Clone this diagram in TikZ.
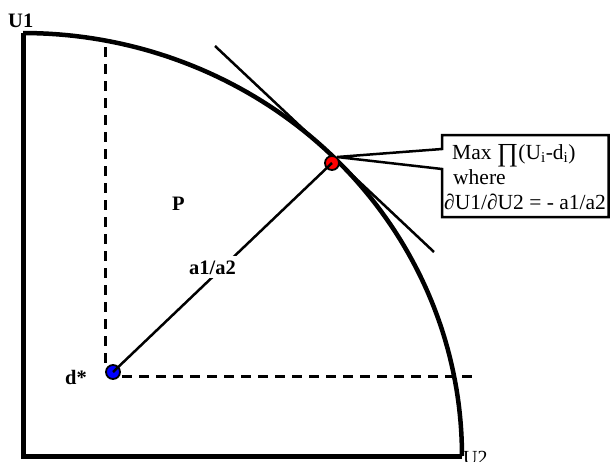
\documentclass[tikz,border=0pt]{standalone}
\usepackage{fontspec}
\setmainfont{Liberation Serif}
\begin{document}
\begin{tikzpicture}[x=1pt,y=-1pt,
  axis/.style={line width=5pt},
  frontier/.style={line width=4.5pt},
  thin line/.style={line width=2.5pt},
  dashline/.style={line width=3pt,dash pattern=on 10pt off 7pt},
  lbl/.style={font=\bfseries\fontsize{20.5}{22}\selectfont,inner sep=0pt},
  dot/.style={circle,draw=black,line width=1.8pt,minimum size=14pt,inner sep=0pt},
  boxtext/.style={font=\fontsize{21.5}{24}\selectfont,inner sep=0pt,anchor=base west}]
\useasboundingbox (0,0) rectangle (610,461);
% axes
\coordinate (O) at (23,456);
\coordinate (top) at (23,33);
\coordinate (right) at (462,456);
\draw[axis] (top) -- (O) -- (right);
% frontier
\draw[frontier] plot[domain=90:0,samples=80] ({23+439*cos(\x)},{456-423*sin(\x)});
% dashed lines
\coordinate (v1) at (105,47);
\coordinate (v2) at (105,368);
\coordinate (h1) at (122,376);
\coordinate (h2) at (478,376);
\draw[dashline] (v1) -- (v2);
\draw[dashline] (h1) -- (h2);
% tangent
\coordinate (t1) at (215,46);
\coordinate (t2) at (434,252);
\draw[thin line] (t1) -- (t2);
% dots
\node[dot,fill=blue] (d) at (113,372) {};
\node[dot,fill=red] (m) at (332,163) {};
\draw[thin line] (d.center) -- (m.center);
\node[lbl,fill=white,inner sep=4pt,anchor=base west] (a) at (185,274) {a1/a2};
% callout
\coordinate (apex) at (337,157);
\coordinate (c1) at (442,169);
\coordinate (c2) at (442,149);
\draw[thin line,line join=miter] (c1) -- (apex) -- (c2) -- (442,135) -- (608.7,135) -- (608.7,217) -- (442,217) -- cycle;
\node[boxtext] (l1) at (452,159) {Max \raisebox{-2pt}{\fontsize{26}{26}\selectfont ∏}(U\textsubscript{i}-d\textsubscript{i})};
\node[boxtext] (l2) at (453,184) {where};
\node[boxtext] (l3) at (444,209) {∂U1/∂U2 = - a1/a2};
% labels
\node[lbl,anchor=base west] (u1) at (8,27) {U1};
\node[lbl,anchor=base west] (p) at (172,210) {P};
\node[lbl,anchor=base west] (ds) at (65,384) {d*};
\node[font=\fontsize{20}{22}\selectfont,inner sep=0pt,anchor=base west] (u2) at (463,464) {U2};
\end{tikzpicture}
\end{document}
